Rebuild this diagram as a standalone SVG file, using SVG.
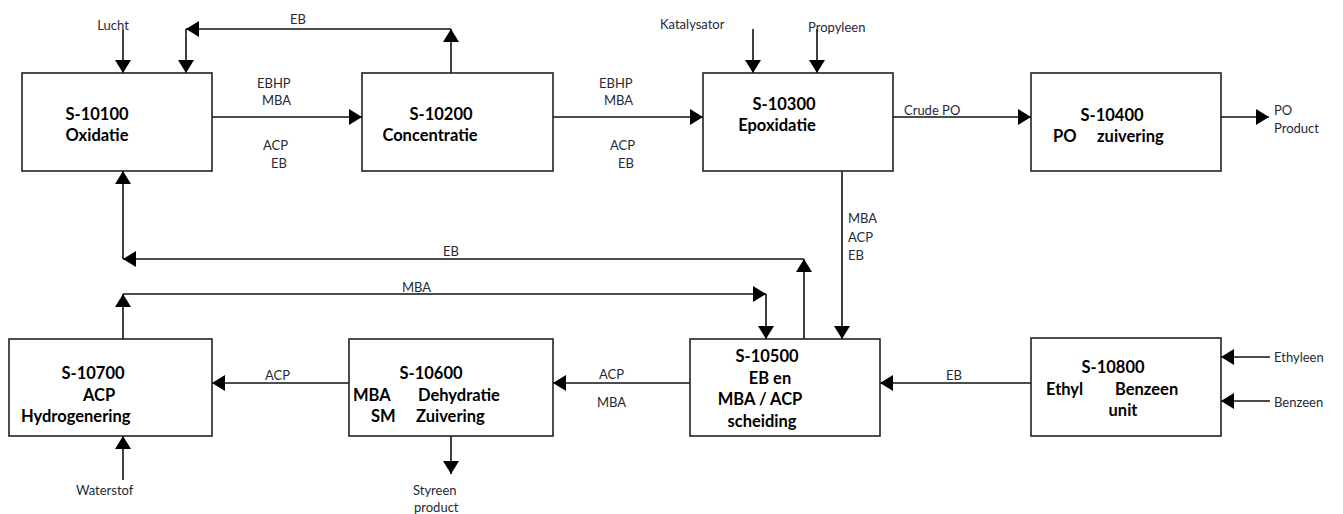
<svg xmlns="http://www.w3.org/2000/svg" width="1343" height="514" viewBox="0 0 1343 514">
<style>
.box{fill:#fff;stroke:#222;stroke-width:1.6}
.t{font-family:Lato,"Liberation Sans",sans-serif;font-weight:bold;font-size:16.5px;fill:#000}
.l{font-family:Lato,"Liberation Sans",sans-serif;font-size:13px;fill:#1f2937}
.c{fill:none;stroke:#111;stroke-width:1.6;marker-end:url(#ah)}
</style>
<defs>
<marker id="ah" markerWidth="13" markerHeight="16" refX="13" refY="8" orient="auto" markerUnits="userSpaceOnUse"><path d="M0,0 L13,8 L0,16 z" fill="#000"/></marker>
</defs>
<rect width="1343" height="514" fill="#fff"/>

<g id="connectors">
<line class="c" x1="123" y1="30" x2="123" y2="73"/>
<line class="c" x1="451" y1="73" x2="451" y2="29"/>
<line class="c" x1="451" y1="29" x2="186" y2="29"/>
<line class="c" x1="186" y1="29" x2="186" y2="73"/>
<line class="c" x1="212" y1="117" x2="362" y2="117"/>
<line class="c" x1="553" y1="117" x2="703" y2="117"/>
<line class="c" x1="753" y1="29" x2="753" y2="73"/>
<line class="c" x1="817" y1="29" x2="817" y2="73"/>
<line class="c" x1="893" y1="117" x2="1031" y2="117"/>
<line class="c" x1="1221" y1="117" x2="1269" y2="117"/>
<line class="c" x1="842" y1="171" x2="842" y2="339"/>
<line class="c" x1="804" y1="339" x2="804" y2="259"/>
<line class="c" x1="804" y1="259" x2="123" y2="259"/>
<line class="c" x1="123" y1="259" x2="123" y2="171"/>
<line class="c" x1="123" y1="339" x2="123" y2="294"/>
<line class="c" x1="123" y1="294" x2="766" y2="294"/>
<line class="c" x1="766" y1="294" x2="766" y2="339"/>
<line class="c" x1="690" y1="383" x2="553" y2="383"/>
<line class="c" x1="349" y1="383" x2="212" y2="383"/>
<line class="c" x1="123" y1="480" x2="123" y2="436"/>
<line class="c" x1="451" y1="436" x2="451" y2="474"/>
<line class="c" x1="1031" y1="383" x2="880" y2="383"/>
<line class="c" x1="1270" y1="357" x2="1221" y2="357"/>
<line class="c" x1="1270" y1="401" x2="1221" y2="401"/>

<text class="l" x="113" y="30" text-anchor="middle">Lucht</text>
<text class="l" x="298" y="24" text-anchor="middle">EB</text>
<text class="l" x="257" y="88">EBHP</text>
<text class="l" x="262" y="105">MBA</text>
<text class="l" x="263" y="150">ACP</text>
<text class="l" x="271" y="168">EB</text>
<text class="l" x="599" y="88">EBHP</text>
<text class="l" x="604" y="105">MBA</text>
<text class="l" x="610" y="150">ACP</text>
<text class="l" x="618" y="168">EB</text>
<text class="l" x="660" y="29">Katalysator</text>
<text class="l" x="808" y="32">Propyleen</text>
<text class="l" x="904" y="115">Crude PO</text>
<text class="l" x="1274" y="115">PO</text>
<text class="l" x="1274" y="133">Product</text>
<text class="l" x="848" y="223">MBA</text>
<text class="l" x="848" y="242">ACP</text>
<text class="l" x="848" y="260">EB</text>
<text class="l" x="443" y="256">EB</text>
<text class="l" x="402" y="292">MBA</text>
<text class="l" x="265" y="380">ACP</text>
<text class="l" x="599" y="379">ACP</text>
<text class="l" x="597" y="407">MBA</text>
<text class="l" x="946" y="380">EB</text>
<text class="l" x="1274" y="362">Ethyleen</text>
<text class="l" x="1274" y="407">Benzeen</text>
<text class="l" x="76" y="495">Waterstof</text>
<text class="l" x="413" y="495">Styreen</text>
<text class="l" x="414" y="512">product</text>
</g>

<g id="S-10100">
<rect class="box" x="22" y="73" width="190" height="98"/>
<text class="t" x="97" y="120" text-anchor="middle">S-10100</text>
<text class="t" x="97" y="141" text-anchor="middle">Oxidatie</text>
</g>
<g id="S-10200">
<rect class="box" x="362" y="73" width="191" height="98"/>
<text class="t" x="441" y="120" text-anchor="middle">S-10200</text>
<text class="t" x="430" y="141" text-anchor="middle">Concentratie</text>
</g>
<g id="S-10300">
<rect class="box" x="703" y="73" width="190" height="98"/>
<text class="t" x="784" y="110" text-anchor="middle">S-10300</text>
<text class="t" x="777" y="131" text-anchor="middle">Epoxidatie</text>
</g>
<g id="S-10400">
<rect class="box" x="1031" y="73" width="190" height="98"/>
<text class="t" x="1112" y="121" text-anchor="middle">S-10400</text>
<text class="t" x="1053" y="142">PO</text>
<text class="t" x="1097" y="142">zuivering</text>
</g>
<g id="S-10500">
<rect class="box" x="690" y="339" width="190" height="97"/>
<text class="t" x="767" y="362" text-anchor="middle">S-10500</text>
<text class="t" x="770" y="384" text-anchor="middle">EB en</text>
<text class="t" x="760" y="405" text-anchor="middle">MBA / ACP</text>
<text class="t" x="762" y="427" text-anchor="middle">scheiding</text>
</g>
<g id="S-10600">
<rect class="box" x="349" y="339" width="204" height="97"/>
<text class="t" x="431" y="379" text-anchor="middle">S-10600</text>
<text class="t" x="353" y="401">MBA</text>
<text class="t" x="418" y="401">Dehydratie</text>
<text class="t" x="371" y="422">SM</text>
<text class="t" x="416" y="422">Zuivering</text>
</g>
<g id="S-10700">
<rect class="box" x="9" y="339" width="203" height="97"/>
<text class="t" x="93" y="379" text-anchor="middle">S-10700</text>
<text class="t" x="99" y="401" text-anchor="middle">ACP</text>
<text class="t" x="21" y="422">Hydrogenering</text>
</g>
<g id="S-10800">
<rect class="box" x="1031" y="338" width="190" height="98"/>
<text class="t" x="1113" y="373" text-anchor="middle">S-10800</text>
<text class="t" x="1046" y="395">Ethyl</text>
<text class="t" x="1115" y="395">Benzeen</text>
<text class="t" x="1123" y="416" text-anchor="middle">unit</text>
</g>
</svg>
